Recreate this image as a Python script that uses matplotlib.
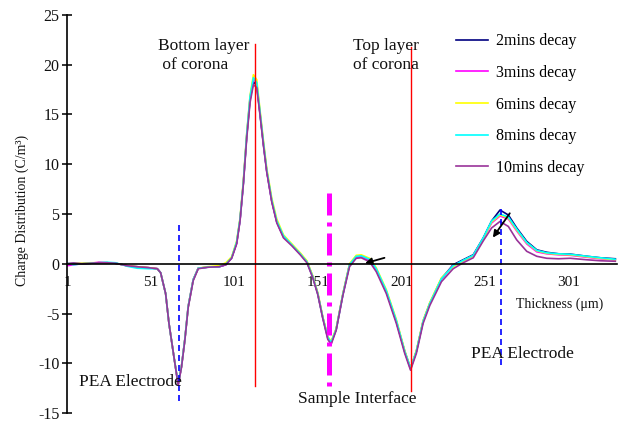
import numpy as np
import matplotlib.pyplot as plt

plt.rcParams['font.family'] = ['Liberation Serif', 'DejaVu Serif']
plt.rcParams['axes.unicode_minus'] = False

# thickness positions (um) and charge density per decay time
thickness = [1, 5, 10, 15, 20, 25, 30, 37, 43, 50, 55, 57, 60, 62, 65, 67.5, 69.5,
             71.5, 73.5, 76.5, 79.5, 85, 92, 96, 99.5, 102.5, 104.5, 106.5, 108.5,
             110.5, 112.5, 114.5, 116.5, 118.5, 120.5, 123.5, 126.5, 130.5, 135.5,
             140.5, 144.5, 148, 151, 154, 157, 159, 162, 166, 170, 174, 177, 182,
             186, 192, 198, 203, 206.5, 210, 214, 218, 225, 232, 238, 244, 250,
             255, 260, 265, 270, 276, 282, 288, 295, 302, 312, 320, 329]

decay_2 = [0.0, 0.05, 0.0, 0.05, 0.1, 0.1, 0.05, -0.2, -0.3, -0.4, -0.5, -0.9, -3.0,
           -6.0, -9.4, -12.1, -10.3, -7.6, -4.3, -1.6, -0.45, -0.35, -0.3, -0.1, 0.6,
           2.1, 4.4, 8.1, 12.8, 16.5, 18.3, 17.9, 15.0, 12.0, 9.3, 6.3, 4.2, 2.7, 1.9,
           1.0, 0.2, -1.3, -3.0, -5.4, -7.4, -7.9, -6.6, -3.1, -0.1, 0.7, 0.75, 0.4,
           -0.6, -2.8, -5.8, -8.8, -10.5, -8.8, -5.8, -4.0, -1.5, -0.1, 0.4, 0.9, 2.6,
           4.3, 5.4, 4.9, 3.6, 2.25, 1.4, 1.15, 1.0, 0.97, 0.75, 0.6, 0.5]

decay_3 = [-0.2, -0.1, 0.0, 0.05, 0.15, 0.1, 0.05, -0.2, -0.35, -0.4, -0.5, -0.9, -3.0,
           -6.0, -9.4, -12.2, -10.3, -7.6, -4.3, -1.6, -0.45, -0.35, -0.3, -0.1, 0.6,
           2.1, 4.4, 8.2, 12.9, 16.7, 18.6, 18.1, 15.1, 12.1, 9.3, 6.3, 4.2, 2.7, 1.9,
           1.0, 0.2, -1.3, -3.0, -5.4, -7.5, -8.0, -6.6, -3.1, -0.1, 0.65, 0.7, 0.35,
           -0.6, -2.8, -5.8, -8.8, -10.6, -8.8, -5.8, -4.0, -1.5, -0.2, 0.3, 0.8, 2.5,
           4.1, 4.8, 4.5, 3.3, 2.0, 1.2, 1.0, 0.9, 0.85, 0.65, 0.5, 0.4]

decay_6 = [0.0, 0.0, 0.05, 0.1, 0.1, 0.1, 0.05, -0.2, -0.3, -0.4, -0.5, -0.9, -3.0,
           -6.0, -9.4, -12.1, -10.3, -7.6, -4.3, -1.6, -0.45, -0.3, -0.2, 0.1, 0.7,
           2.3, 4.6, 8.4, 13.1, 16.9, 19.0, 18.5, 15.4, 12.4, 9.6, 6.6, 4.5, 2.9, 2.0,
           1.1, 0.3, -1.2, -2.9, -5.3, -7.3, -7.8, -6.5, -3.0, 0.0, 0.85, 0.9, 0.55,
           -0.4, -2.6, -5.6, -8.7, -10.5, -8.7, -5.7, -3.9, -1.4, -0.3, 0.3, 0.8, 2.5,
           4.2, 4.9, 4.6, 3.4, 2.1, 1.3, 1.05, 0.95, 0.9, 0.7, 0.55, 0.4]

decay_8 = [0.05, -0.1, 0.0, 0.05, 0.1, 0.15, 0.1, -0.25, -0.45, -0.5, -0.5, -0.9, -3.0,
           -6.0, -9.4, -12.1, -10.3, -7.6, -4.3, -1.6, -0.45, -0.35, -0.3, -0.05, 0.6,
           2.2, 4.5, 8.2, 13.0, 16.8, 18.7, 18.2, 15.2, 12.2, 9.4, 6.4, 4.3, 2.8, 1.9,
           1.0, 0.2, -1.3, -3.0, -5.4, -7.4, -7.9, -6.6, -3.1, -0.1, 0.75, 0.8, 0.45,
           -0.5, -2.7, -5.7, -8.8, -10.5, -8.8, -5.8, -4.0, -1.5, -0.2, 0.35, 0.85, 2.6,
           4.3, 5.0, 4.7, 3.5, 2.15, 1.35, 1.1, 1.0, 0.95, 0.75, 0.6, 0.45]

decay_10 = [0.0, 0.05, 0.0, 0.05, 0.1, 0.1, 0.05, -0.2, -0.3, -0.4, -0.5, -0.9, -3.0,
            -6.0, -9.4, -12.2, -10.4, -7.7, -4.4, -1.7, -0.5, -0.35, -0.3, -0.1, 0.55,
            2.0, 4.3, 8.0, 12.6, 16.2, 18.0, 17.7, 14.9, 11.9, 9.2, 6.2, 4.1, 2.6, 1.8,
            0.9, 0.1, -1.4, -3.1, -5.5, -7.6, -8.1, -6.7, -3.2, -0.3, 0.55, 0.6, 0.2,
            -0.8, -3.0, -6.0, -9.0, -10.7, -9.0, -6.0, -4.2, -1.8, -0.5, 0.1, 0.6, 2.3,
            3.6, 4.25, 3.75, 2.4, 1.25, 0.75, 0.55, 0.5, 0.55, 0.4, 0.3, 0.25]

series = [
    ('2mins decay', decay_2, '#000080'),
    ('3mins decay', decay_3, '#ff00ff'),
    ('6mins decay', decay_6, '#ffff00'),
    ('8mins decay', decay_8, '#00ffff'),
    ('10mins decay', decay_10, '#993399'),
]

fig = plt.figure(figsize=(6.21, 4.21), dpi=100)
ax = fig.add_axes([67 / 621, 8 / 421, 550 / 621, 398 / 421])

for label, vals, col in series:
    ax.plot(thickness, vals, color=col, lw=1.2, label=label)

# marker lines for electrodes, corona layers and interface
ax.plot([68, 68], [-13.8, 3.85], color='#0000ff', lw=1.2, linestyle=(0, (3.6, 2.4)))
ax.plot([260.6, 260.6], [-10.2, 5.6], color='#0000ff', lw=1.2, linestyle=(0, (3.6, 2.4)))
ax.plot([113.6, 113.6], [-12.3, 22.1], color='#ff0000', lw=1)
ax.plot([206.8, 206.8], [-12.8, 21.8], color='#ff0000', lw=1)
ax.plot([157.8, 157.8], [7.1, -12.9], color='#ff00ff', lw=3.6,
        linestyle=(0, (4.4, 1.4, 0.8, 1.4)))

ax.annotate('', xy=(177.7, -0.03), xytext=(192.5, 0.67),
            arrowprops=dict(arrowstyle='-|>', color='black', lw=1.3, mutation_scale=10))
ax.annotate('', xy=(254.8, 2.4), xytext=(266.8, 5.3),
            arrowprops=dict(arrowstyle='-|>', color='black', lw=1.3, mutation_scale=10))

ax.text(55.4, 22.7, 'Bottom layer\n of corona', fontsize=12.5, ha='left', va='top',
        linespacing=1.3, color='#111111')
ax.text(172, 22.7, 'Top layer\nof corona', fontsize=12.5, ha='left', va='top',
        linespacing=1.3, color='#111111')
ax.text(8.2, -11.9, 'PEA Electrode', fontsize=12.5, ha='left', va='center', color='#111111')
ax.text(242.5, -9.05, 'PEA Electrode', fontsize=12.5, ha='left', va='center', color='#111111')
ax.text(139, -13.6, 'Sample Interface', fontsize=12.5, ha='left', va='center', color='#111111')
ax.text(269.4, -4.1, 'Thickness (μm)', fontsize=10, ha='left', va='center', color='#111111')

fig.text(22 / 621, 1 - 210 / 421, 'Charge Distribution (C/m³)', rotation=90,
         ha='center', va='center', fontsize=10, color='#111111')

ax.set_xlim(1, 330)
ax.set_ylim(-15, 25)
ax.set_xticks([1, 51, 101, 151, 201, 251, 301])
ax.set_yticks(np.arange(-15, 26, 5))
ax.spines['top'].set_visible(False)
ax.spines['right'].set_visible(False)
ax.spines['bottom'].set_position(('data', 0))
ax.spines['left'].set_linewidth(1.2)
ax.spines['bottom'].set_linewidth(1.2)
ax.tick_params(axis='x', length=0, pad=9, labelsize=11, colors='#111111')
ax.tick_params(axis='y', direction='inout', length=7, width=1.2, pad=2, labelsize=11.5,
               colors='#111111')
ax.patch.set_alpha(0)

ax.legend(loc='upper left', bbox_to_anchor=((450 - 67) / 550, 1 - 12 / 398), frameon=False,
          fontsize=11.5, handlelength=2.0, handletextpad=0.5, labelspacing=0.98,
          borderaxespad=0)

fig.savefig('out.png', dpi=100)
